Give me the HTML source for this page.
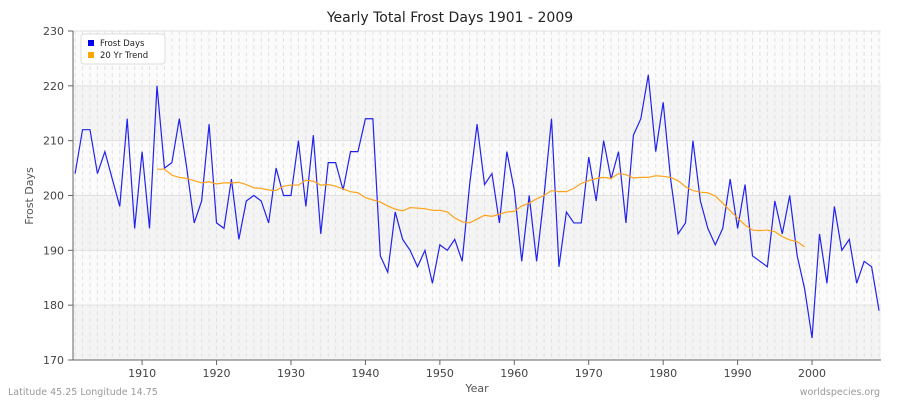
<!DOCTYPE html><html><head><style>body{margin:0;background:#fff}svg{display:block;font-family:"DejaVu Sans","Liberation Sans",sans-serif}</style></head><body>
<svg id="s" width="900" height="400" xmlns="http://www.w3.org/2000/svg">
<rect width="900" height="400" fill="#fff"/>
<text x="450" y="22" text-anchor="middle" font-size="14" fill="#222">Yearly Total Frost Days 1901 - 2009</text>
<text x="33" y="196" text-anchor="middle" font-size="11" fill="#555" transform="rotate(-90 33 196)">Frost Days</text>
<text x="477" y="392" text-anchor="middle" font-size="11" fill="#555">Year</text>
<text x="8" y="395" font-size="9.5" fill="#999">Latitude 45.25 Longitude 14.75</text>
<text x="880" y="395" text-anchor="end" font-size="9.5" fill="#999">worldspecies.org</text>
<g id="g"></g>
</svg>
<script>
const X0=73,X1=881,Y0=31,Y1=360;
const xs=y=>75.1+(y-1901)*7.444, ys=v=>Y1-(v-170)*(Y1-Y0)/60;
const d=[204,212,212,204,208,203,198,214,194,208,194,220,205,206,214,205,195,199,213,195,194,203,192,199,200,199,195,205,200,200,210,198,211,193,206,206,201,208,208,214,214,189,186,197,192,190,187,190,184,191,190,192,188,202,213,202,204,195,208,201,188,200,188,200,214,187,197,195,195,207,199,210,203,208,195,211,214,222,208,217,203,193,195,210,199,194,191,194,203,194,202,189,188,187,199,193,200,189,183,174,193,184,198,190,192,184,188,187,179];
const t=[204.8,204.8,203.7,203.3,203.1,202.7,202.3,202.5,202.1,202.3,202.3,202.4,202,201.4,201.3,201,200.9,201.7,201.9,201.9,202.8,202.6,201.9,202,201.7,201.2,200.7,200.5,199.6,199.2,198.8,198.1,197.5,197.2,197.8,197.7,197.6,197.3,197.3,197,195.9,195.2,195,195.7,196.4,196.2,196.6,197,197.1,198.1,198.6,199.4,200,200.9,200.7,200.7,201.3,202.2,202.7,203.1,203.3,203.1,204,203.8,203.2,203.3,203.3,203.6,203.5,203.3,202.7,201.6,200.9,200.6,200.5,199.9,198.6,197.2,195.9,194.6,193.7,193.6,193.7,193.4,192.5,191.9,191.6,190.6];
let h='';
for(let k=0;k<6;k++){const v=170+k*10;h+=`<rect x="${X0}" y="${ys(v+10)}" width="${X1-X0}" height="${ys(v)-ys(v+10)}" fill="${k%2==0?'#f4f4f4':'#fbfbfb'}"/>`;}
for(let y=1901;y<=2009;y++){h+=`<line x1="${xs(y)}" x2="${xs(y)}" y1="${Y0}" y2="${Y1}" stroke="#e2e2e2" stroke-dasharray="4,3" stroke-width="1"/>`;}
for(let v=170;v<=230;v+=10){h+=`<line x1="${X0}" x2="${X1}" y1="${ys(v)}" y2="${ys(v)}" stroke="#e0e0e0"/>`;h+=`<line x1="${X0-5}" x2="${X0}" y1="${ys(v)}" y2="${ys(v)}" stroke="#666"/><text x="${X0-9}" y="${ys(v)+4}" text-anchor="end" font-size="11" fill="#444">${v}</text>`;}
for(let y=1910;y<=2000;y+=10){h+=`<line x1="${xs(y)}" x2="${xs(y)}" y1="${Y1}" y2="${Y1+5}" stroke="#666"/><text x="${xs(y)}" y="${Y1+17}" text-anchor="middle" font-size="11" fill="#444">${y}</text>`;}
h+=`<line x1="${X0}" x2="${X0}" y1="${Y0}" y2="${Y1}" stroke="#666"/><line x1="${X0}" x2="${X1}" y1="${Y1}" y2="${Y1}" stroke="#666"/>`;
h+=`<polyline fill="none" stroke="#2222ee" stroke-width="1.2" points="${d.map((v,i)=>xs(1901+i)+','+ys(v)).join(' ')}"/>`;
h+=`<polyline fill="none" stroke="#ffa31a" stroke-width="1.2" points="${t.map((v,i)=>xs(1912+i)+','+ys(v)).join(' ')}"/>`;
h+=`<rect x="81" y="34" width="84" height="30" rx="3" fill="#fff" stroke="#ddd"/><rect x="88" y="40" width="6" height="6" fill="#0000ee"/><text x="100" y="46" font-size="8.5" fill="#222">Frost Days</text><rect x="88" y="52" width="6" height="6" fill="#ffa500"/><text x="100" y="58" font-size="8.5" fill="#222">20 Yr Trend</text>`;
document.getElementById('g').innerHTML=h;
</script></body></html>
